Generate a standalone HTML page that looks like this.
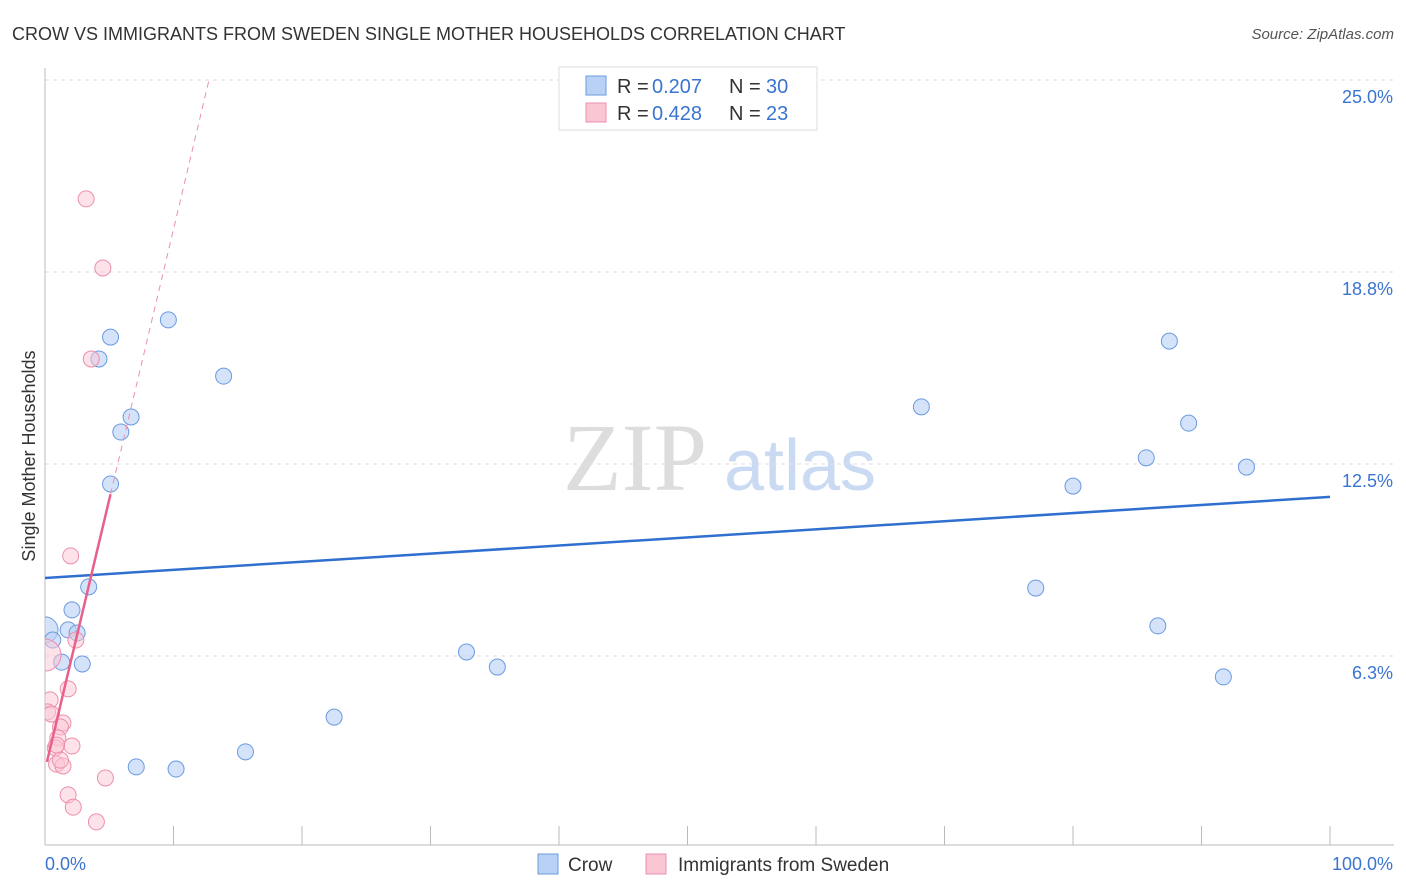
<!DOCTYPE html>
<html><head><meta charset="utf-8"><style>
body{margin:0;background:#fff;font-family:"Liberation Sans",sans-serif}
svg{display:block}
</style></head><body>
<svg id="chart" width="1406" height="892" xmlns="http://www.w3.org/2000/svg">
<defs><clipPath id="plotclip"><rect x="45" y="60" width="1360" height="785"/></clipPath></defs>
<text x="12" y="40" font-size="18" fill="#333">CROW VS IMMIGRANTS FROM SWEDEN SINGLE MOTHER HOUSEHOLDS CORRELATION CHART</text>
<text x="1394" y="39" font-size="15" fill="#555" font-style="italic" text-anchor="end">Source: ZipAtlas.com</text>
<g>
<text x="635" y="490" font-size="96" fill="#ddd" font-family="Liberation Serif,serif" text-anchor="middle">ZIP</text>
<text x="800" y="490" font-size="72" fill="#c9daf2" text-anchor="middle">atlas</text>
</g>
<g id="grid"></g>
<g id="axes"></g>
<g id="marks" clip-path="url(#plotclip)"></g>
<text x="35" y="456" font-size="18" fill="#333" text-anchor="middle" transform="rotate(-90 35 456)">Single Mother Households</text>
<g>
<rect x="559" y="67" width="258" height="63" fill="#fff" stroke="#ddd"/>
<rect x="586" y="76" width="20" height="19" fill="#b8d1f5" stroke="#6a9ae0"/>
<rect x="586" y="103" width="20" height="19" fill="#fbc6d4" stroke="#ec8fab"/>
<text x="617" y="93" font-size="20" fill="#333">R =</text>
<text x="652" y="93" font-size="20" fill="#3a74d0">0.207</text>
<text x="729" y="93" font-size="20" fill="#333">N =</text>
<text x="766" y="93" font-size="20" fill="#3a74d0">30</text>
<text x="617" y="120" font-size="20" fill="#333">R =</text>
<text x="652" y="120" font-size="20" fill="#3a74d0">0.428</text>
<text x="729" y="120" font-size="20" fill="#333">N =</text>
<text x="766" y="120" font-size="20" fill="#3a74d0">23</text>
</g>
<g>
<rect x="538" y="854" width="20" height="20" fill="#b8d1f5" stroke="#6a9ae0"/>
<text x="568" y="871" font-size="19" fill="#333">Crow</text>
<rect x="646" y="854" width="20" height="20" fill="#fbc6d4" stroke="#ec8fab"/>
<text x="678" y="871" font-size="19" fill="#333">Immigrants from Sweden</text>
</g>
</svg>
<script>
const yTicks=[25,18.75,12.5,6.25];
const yTickLabels=["25.0%","18.8%","12.5%","6.3%"];
const xTickLabels=["0.0%","100.0%"];
const crowX=[0,0.6,1.8,2.1,2.5,1.3,2.9,3.4,5.1,5.9,6.7,4.2,5.1,9.6,13.9,7.1,10.2,15.6,22.5,32.8,35.2,68.2,80.0,77.1,85.7,86.6,87.5,89.0,93.5,91.7];
const crowY=[7.10,6.77,7.10,7.75,7.0,6.05,5.99,8.5,11.85,13.54,14.03,15.92,16.63,17.19,15.36,2.64,2.57,3.13,4.26,6.38,5.89,14.36,11.78,8.46,12.70,7.23,16.50,13.83,12.40,5.57];
const sweX=[3.2,4.5,3.6,2.0,2.4,1.8,0.4,0.2,0.5,1.4,1.2,1.0,2.1,0.8,0.9,1.4,4.7,1.8,2.2,4.0,0,1.2,0.9];
const sweY=[21.13,18.88,15.92,9.51,6.77,5.18,4.82,4.43,4.36,4.07,3.94,3.58,3.32,3.26,2.73,2.67,2.28,1.73,1.33,0.85,6.28,2.86,3.35];
const crowTrend=[8.79,0.0264];
const sweTrend=[2.54,1.76];
const X=v=>45+v*12.85, Y=v=>848-v*30.72;
const NS="http://www.w3.org/2000/svg";
function mk(tag,attrs,parent){const e=document.createElementNS(NS,tag);for(const k in attrs)e.setAttribute(k,attrs[k]);parent.appendChild(e);return e;}
const grid=document.getElementById('grid'),axes=document.getElementById('axes'),marks=document.getElementById('marks');
yTicks.forEach((t,i)=>{
 const l=mk('line',{x1:45,x2:1394,y1:Y(t),y2:Y(t),stroke:'#ddd','stroke-dasharray':'4,4'},grid);
 
 
 const tx=mk('text',{x:1393,y:Y(t)+23,'font-size':18,fill:'#3a74d0','text-anchor':'end'},axes);
 tx.textContent=yTickLabels[i];
 
 
});
mk('line',{x1:45,x2:45,y1:68,y2:845,stroke:'#bbb'},axes);
mk('line',{x1:45,x2:1394,y1:845,y2:845,stroke:'#bbb'},axes);
for(let i=0;i<=10;i++){const t=mk('line',{x1:X(i*10),x2:X(i*10),y1:826,y2:845,stroke:'#bbb'},axes);
 
 }
const xl0=mk('text',{x:45,y:870,'font-size':18,fill:'#3a74d0'},axes);xl0.textContent=xTickLabels[0];


const xl1=mk('text',{x:1393,y:870,'font-size':18,fill:'#3a74d0','text-anchor':'end'},axes);xl1.textContent=xTickLabels[1];


crowX.forEach((x,i)=>{const c=mk('circle',{cx:X(x),cy:Y(crowY[i]),r:(x===0?13:8),fill:'rgba(184,209,245,0.6)',stroke:'#6a9ae0','stroke-width':1},marks);
 
 });
sweX.forEach((x,i)=>{const c=mk('circle',{cx:X(x),cy:Y(sweY[i]),r:(x===0?16:8),fill:'rgba(251,198,212,0.5)',stroke:'#ec8fab','stroke-width':1},marks);
 
 });
const bl=mk('line',{x1:X(0),y1:Y(crowTrend[0]),x2:X(100),y2:Y(crowTrend[0]+crowTrend[1]*100),stroke:'#2f6fd0','stroke-width':2.5},marks);


const xEnd=5.1, xDash=(25-sweTrend[0])/sweTrend[1];
const pl=mk('line',{x1:X(0.15),y1:Y(sweTrend[0]+sweTrend[1]*0.15),x2:X(xEnd),y2:Y(sweTrend[0]+sweTrend[1]*xEnd),stroke:'#e8608a','stroke-width':2.5},marks);


const pd=mk('line',{x1:X(xEnd),y1:Y(sweTrend[0]+sweTrend[1]*xEnd),x2:X(xDash),y2:Y(25),stroke:'#ec8fab','stroke-width':1,'stroke-dasharray':'6,5'},marks);


</script>
</body></html>
